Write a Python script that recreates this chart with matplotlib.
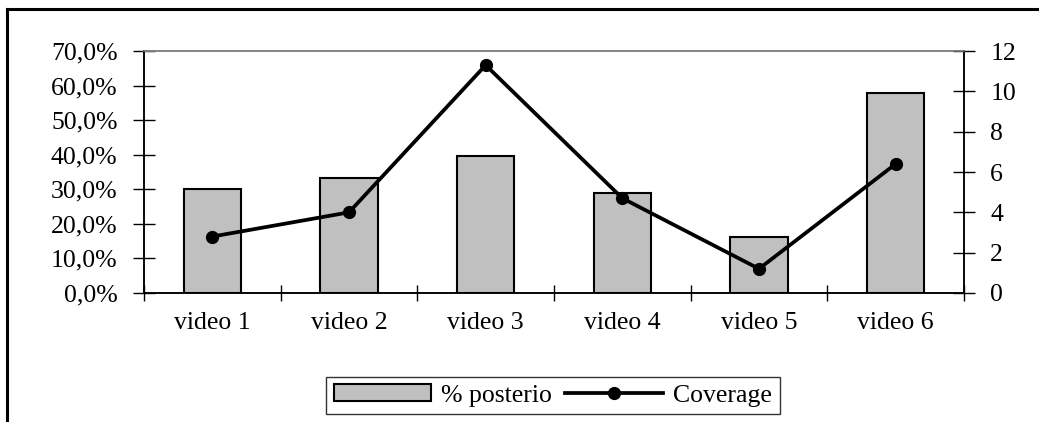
import numpy as np
import matplotlib.pyplot as plt
from matplotlib.lines import Line2D
from matplotlib.ticker import FuncFormatter

videos = ["video 1", "video 2", "video 3", "video 4", "video 5", "video 6"]
posterio = [30.0, 33.4, 39.7, 28.8, 16.2, 57.9]   # percent
coverage = [2.8, 4.0, 11.3, 4.7, 1.2, 6.4]

plt.rcParams['font.family'] = ['Liberation Serif', 'DejaVu Serif']
plt.rcParams['font.size'] = 18.5

fig = plt.figure(figsize=(10.39, 4.22), dpi=100)
ax = fig.add_axes([0.1386, 0.3057, 0.7892, 0.5734])

x = np.arange(len(videos))
bars = ax.bar(x, posterio, width=0.42, color='#c0c0c0', edgecolor='black',
              linewidth=1.5, label='% posterio', zorder=2)
ax.set_ylim(0, 70)
ax.set_yticks(np.arange(0, 71, 10))
ax.yaxis.set_major_formatter(FuncFormatter(lambda v, p: f"{v:.1f}%".replace('.', ',')))
ax.set_xlim(-0.5, len(videos) - 0.5)

# category boundaries get the ticks, labels sit in the middle
ax.set_xticks(np.arange(-0.5, len(videos), 1))
ax.set_xticklabels([])
ax.set_xticks(x, minor=True)
ax.set_xticklabels(videos, minor=True)
ax.tick_params(axis='x', which='major', direction='inout', length=11, width=1)
ax.tick_params(axis='x', which='minor', length=0, pad=14)
ax.tick_params(axis='y', direction='inout', length=16, width=1, pad=11)

ax2 = ax.twinx()
line, = ax2.plot(x, coverage, color='black', linewidth=2.7, marker='o',
                 markersize=8.5, label='Coverage', zorder=3)
ax2.set_ylim(0, 12)
ax2.set_yticks(np.arange(0, 13, 2))
ax2.tick_params(axis='y', direction='inout', length=16, width=1, pad=11)

for a in (ax, ax2):
    a.spines['top'].set_color('#808080')
    a.spines['top'].set_linewidth(1.1)
    for s in ('left', 'right', 'bottom'):
        a.spines[s].set_linewidth(1.1)

fig.legend([bars, line], ['% posterio', 'Coverage'], loc='center',
           bbox_to_anchor=(0.532, 0.063), ncol=2, frameon=True, fancybox=False,
           edgecolor='black', handlelength=3.8, handleheight=0.6,
           columnspacing=0.5, handletextpad=0.4, borderpad=0.3, fontsize=18.5)
leg = fig.legends[0]
leg.get_frame().set_linewidth(1.0)

# outer chart frame (left and top edges)
W, H = 1039, 422
fig.add_artist(Line2D([7 / W, 7 / W], [0, 1 - 9 / H], color='black', linewidth=2.2,
                      transform=fig.transFigure))
fig.add_artist(Line2D([7 / W, 1], [1 - 9 / H, 1 - 9 / H], color='black', linewidth=2.2,
                      transform=fig.transFigure))

fig.savefig('out.png', dpi=100)
